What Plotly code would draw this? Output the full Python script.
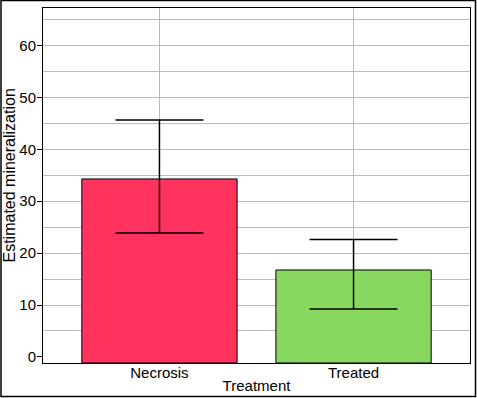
import plotly.graph_objects as go

categories = ["Necrosis", "Treated"]
values = [34.3, 16.75]
upper = [45.66, 22.65]
lower = [23.88, 9.23]
bar_colors = ["#FF335E", "#88D860"]
y_ticks = [0, 10, 20, 30, 40, 50, 60]
y_minor = [5, 10, 15, 20, 25, 30, 35, 40, 45, 50, 55, 60, 65]

Y0, Y1 = -1.18, 67.25
FONT = "Liberation Sans, Arial, sans-serif"

fig = go.Figure()
fig.add_trace(go.Bar(
    x=categories,
    y=[v - Y0 for v in values],
    base=Y0,
    width=0.8,
    marker=dict(color=bar_colors, line=dict(color="black", width=1)),
    error_y=dict(
        type="data", symmetric=False,
        array=[u - v for u, v in zip(upper, values)],
        arrayminus=[v - l for v, l in zip(values, lower)],
        color="black", thickness=1.5, width=44,
    ),
    showlegend=False,
))

L, R, T, B = 43, 7, 8, 35
W, H = 477, 398
pw, ph = W - L - R, H - T - B

fig.update_layout(
    width=W, height=H,
    margin=dict(l=L, r=R, t=T, b=B, pad=0, autoexpand=False),
    paper_bgcolor="white", plot_bgcolor="white",
    font=dict(family=FONT, size=15, color="black"),
    bargap=0.2,
    xaxis=dict(
        type="category", range=[-0.6, 1.6], automargin=False,
        showgrid=True, gridcolor="#BBBBBB", gridwidth=1,
        showline=True, linecolor="black", linewidth=1, mirror=True,
        ticks="", tickfont=dict(size=15), ticklabelstandoff=-4,
        title=dict(text="Treatment", standoff=0, font=dict(size=15)),
    ),
    yaxis=dict(
        range=[Y0, Y1], automargin=False,
        tickvals=y_ticks, ticks="outside", ticklen=5, tickcolor="black",
        showgrid=False, zeroline=False,
        minor=dict(tickvals=y_minor, showgrid=True, gridcolor="#BBBBBB", gridwidth=1, ticks=""),
        showline=True, linecolor="black", linewidth=1, mirror=True,
        tickfont=dict(size=15), ticklabelstandoff=-2,
    ),
    annotations=[dict(
        text="Estimated mineralization", textangle=-90,
        xref="paper", yref="paper",
        x=(9 - L) / pw, y=(H - B - 175.5) / ph,
        xanchor="center", yanchor="middle", showarrow=False,
        font=dict(size=16, family=FONT, color="black"),
    )],
    shapes=[dict(
        type="rect", xref="paper", yref="paper",
        x0=(1 - L) / pw, x1=(475.5 - L) / pw,
        y0=(H - B - 396.5) / ph, y1=(H - B - 0.5) / ph,
        line=dict(color="black", width=1.5), fillcolor="rgba(0,0,0,0)", layer="above",
    )],
)

fig.write_html("out.html")
